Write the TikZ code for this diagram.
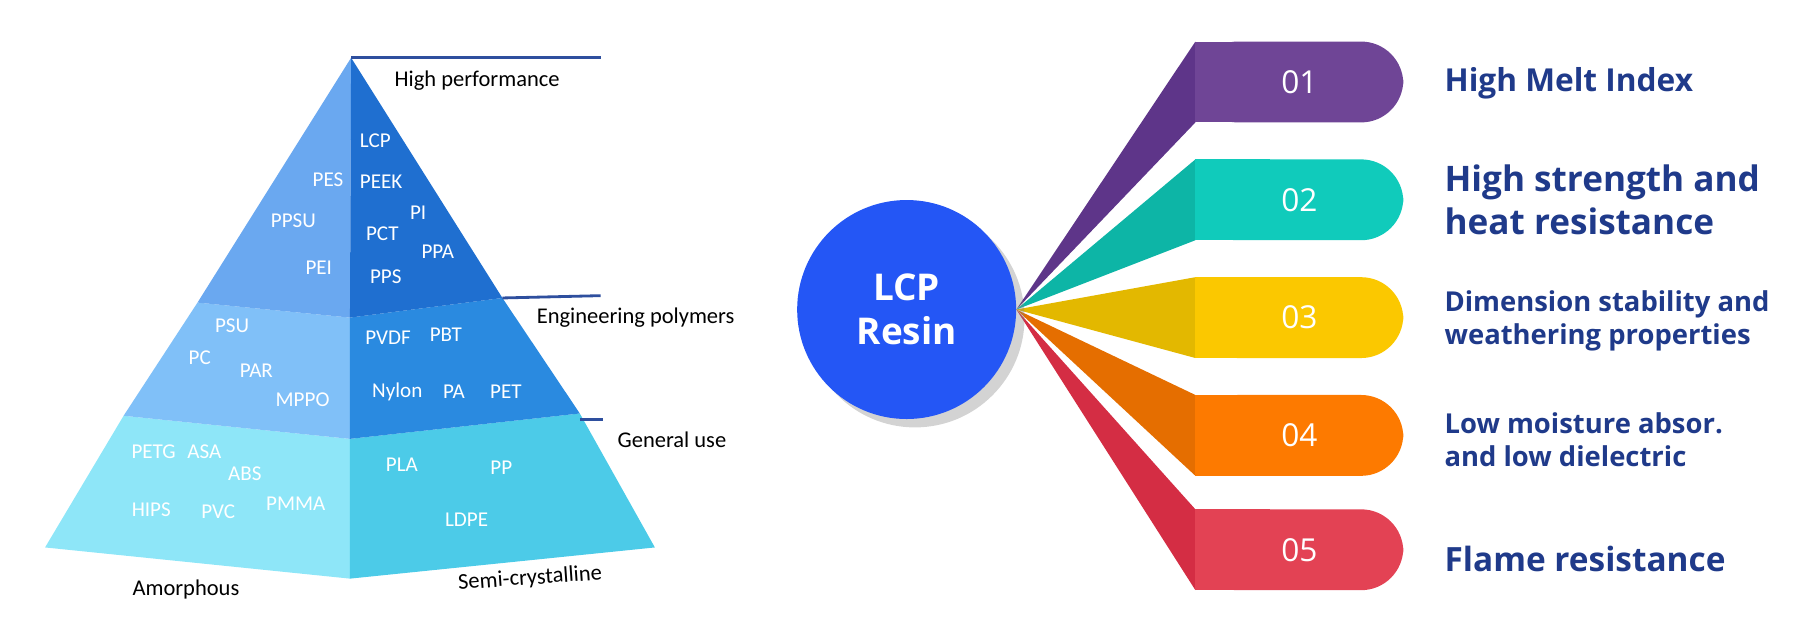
\documentclass[tikz,border=0pt]{standalone}
\usepackage{fontspec}
\setmainfont{Carlito}
\newfontfamily\opensans{Open Sans}
\usetikzlibrary{calc,shadows}
\definecolor{topL}{HTML}{6AA8F0}
\definecolor{topR}{HTML}{1F6FD0}
\definecolor{midL}{HTML}{80C0F8}
\definecolor{midR}{HTML}{2A8AE0}
\definecolor{lowL}{HTML}{8EE6F8}
\definecolor{lowR}{HTML}{4CCBE8}
\definecolor{rule}{HTML}{2E4F9E}
\definecolor{navy}{HTML}{1F3A8A}
\definecolor{resin}{HTML}{2456F5}
\definecolor{wedgeA}{HTML}{5E3589}\definecolor{boxA}{HTML}{6F4596}
\definecolor{wedgeB}{HTML}{0DB5A6}\definecolor{boxB}{HTML}{10CBBB}
\definecolor{wedgeC}{HTML}{E3B800}\definecolor{boxC}{HTML}{FBC800}
\definecolor{wedgeD}{HTML}{E56E00}\definecolor{boxD}{HTML}{FD7A00}
\definecolor{wedgeE}{HTML}{D42D44}\definecolor{boxE}{HTML}{E34254}
\tikzset{
	poly/.style={text=white, font=\fontsize{6}{7}\selectfont},
	tier/.style={font=\fontsize{6.4}{7}\selectfont, anchor=west},
	num/.style={text=white, font=\opensans\fontsize{9}{10}\selectfont},
	prop/.style={text=navy, anchor=west, align=left, font=\opensans\bfseries\fontsize{7.8}{9.3}\selectfont}
}
% one ribbon: name, top y, colour of wedge, colour of box, number
\newcommand{\ribbon}[5]
{
	\fill[#3] (focus) -- (1035,#2) -- (1035,#2+70) -- cycle;
	\fill[#4, rounded corners=12] (1035,#2) rectangle (1215,#2+70);
	\fill[#4] (1035,#2) rectangle (1100,#2+70);
	\node[num] (#1) at (1125,#2+35) {#5};
}

\begin{document}
\begin{tikzpicture}[x=0.01155cm, y=-0.01155cm]
	\useasboundingbox (0,0) rectangle (1568,557.5);
	% pyramid, 1568 x 557 frame
	\fill[lowL] (39,474) -- (107,360) -- (303,380) -- (303,501) -- cycle;
	\fill[lowR] (303,501) -- (303,380) -- (502,358) -- (567,474) -- cycle;
	\fill[midL] (107,360) -- (171,262) -- (303,275) -- (303,380) -- cycle;
	\fill[midR] (303,380) -- (303,275) -- (435,258) -- (502,358) -- cycle;
	\fill[topL] (171,262) -- (304,50) -- (303,275) -- cycle;
	\fill[topR] (303,275) -- (304,50) -- (435,258) -- cycle;
	\draw[rule, thick] (304,50) -- (520,50);
	\draw[rule, thick] (435,258) -- (520,256);
	\draw[rule, thick] (502,363) -- (522,363);
	\node[tier] (high) at (331,70) {High performance};
	\node[tier] (eng) at (454,275) {Engineering polymers};
	\node[tier] (gen) at (524,381) {General use};
	\node[tier] (amo) at (104,510) {Amorphous};
	\node[tier, rotate=4] (semi) at (386,506) {Semi-crystalline};
	\foreach \name/\x/\y in {PES/284/156, PPSU/254/191, PEI/276/232, LCP/325/122,
		PEEK/330/157, PI/362/184, PCT/331/202, PPA/379/218, PPS/334/240,
		PSU/201/282, PC/173/310, PAR/222/321, MPPO/262/346,
		PVDF/336/292, PBT/386/290, Nylon/344/339, PA/393/339, PET/438/339,
		PETG/133/391, ASA/177/391, ABS/212/410, HIPS/131/441, PVC/189/443,
		PMMA/256/436, PLA/348/402, PP/434/405, LDPE/404/450}
		\node[poly] (p\name) at (\x,\y) {\name};
	% LCP resin fan
	\coordinate (focus) at (880,268);
	\ribbon{r1}{36}{wedgeA}{boxA}{01}
	\ribbon{r2}{138}{wedgeB}{boxB}{02}
	\ribbon{r3}{240}{wedgeC}{boxC}{03}
	\ribbon{r4}{342}{wedgeD}{boxD}{04}
	\ribbon{r5}{441}{wedgeE}{boxE}{05}
	\node[circle, fill=resin, minimum size=2.19cm, drop shadow={opacity=0.35}, text=white, align=center,
		font=\opensans\bfseries\fontsize{10.5}{12.5}\selectfont] (resin) at (785,268) {LCP\\Resin};
	\node[prop, font=\opensans\bfseries\fontsize{9}{10}\selectfont] (t1) at (1240,72) {High Melt Index};
	\node[prop, font=\opensans\bfseries\fontsize{10}{12.5}\selectfont] (t2) at (1240,173) {High strength and\\heat resistance};
	\node[prop] (t3) at (1240,278) {Dimension stability and\\weathering properties};
	\node[prop] (t4) at (1240,381) {Low moisture absor.\\and low dielectric};
	\node[prop, font=\opensans\bfseries\fontsize{9.5}{10}\selectfont] (t5) at (1240,484) {Flame resistance};
\end{tikzpicture}
\end{document}
